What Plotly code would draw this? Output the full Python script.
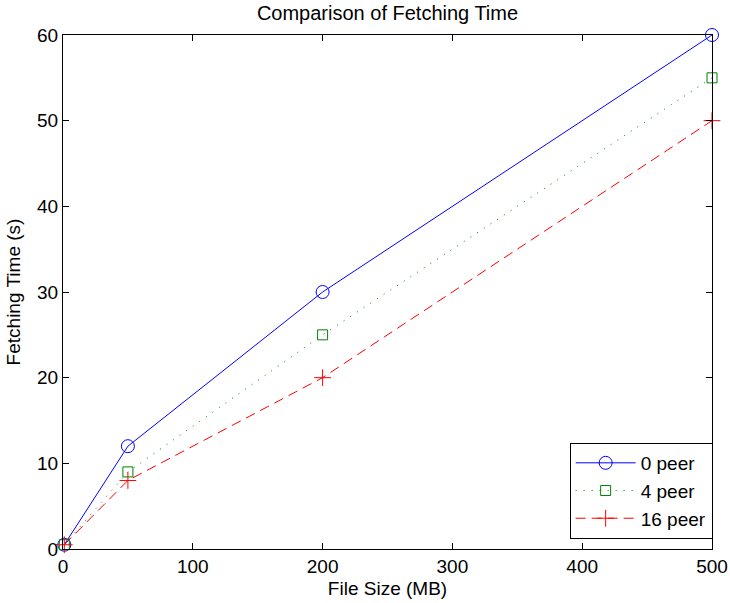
import plotly.graph_objects as go

file_size = [1, 50, 200, 500]
peer0 = [0.5, 12, 30, 60]
peer4 = [0.5, 9, 25, 55]
peer16 = [0.5, 8, 20, 50]
x_ticks = [0, 100, 200, 300, 400, 500]
y_ticks = [0, 10, 20, 30, 40, 50, 60]

fig = go.Figure()
fig.add_trace(go.Scatter(x=file_size, y=peer0, name="0 peer", mode="lines+markers", cliponaxis=False,
                         line=dict(color="rgb(0,0,255)", width=1, dash="solid"),
                         marker=dict(symbol="circle-open", size=13, color="rgb(0,0,255)", line=dict(width=1))))
fig.add_trace(go.Scatter(x=file_size, y=peer4, name="4 peer", mode="lines+markers", cliponaxis=False,
                         line=dict(color="rgb(0,128,0)", width=1, dash="1px,7px"),
                         marker=dict(symbol="square-open", size=10, color="rgb(0,128,0)", line=dict(width=1))))
fig.add_trace(go.Scatter(x=file_size, y=peer16, name="16 peer", mode="lines+markers", cliponaxis=False,
                         line=dict(color="rgb(255,0,0)", width=1, dash="10px,6px"),
                         marker=dict(symbol="cross-thin-open", size=12, color="rgb(255,0,0)", line=dict(width=1, color="rgb(255,0,0)"))))

font = "Liberation Sans, Arial, sans-serif"
fs = 19
fig.update_layout(
    width=730, height=603,
    margin=dict(l=63, r=18, t=35, b=54, autoexpand=False),
    paper_bgcolor="white", plot_bgcolor="white",
    title=dict(text="Comparison of Fetching Time", x=0.5, xref="paper", xanchor="center",
               y=1 - 13/603, yanchor="middle",
               font=dict(family=font, size=20, color="black")),
    font=dict(family=font, size=fs, color="black"),
    xaxis=dict(range=[0, 500], tickvals=x_ticks, ticks="inside", ticklen=6, tickcolor="black",
               showline=True, linecolor="black", linewidth=1, mirror="ticks", showgrid=False, zeroline=False,
               title=dict(text="File Size (MB)", font=dict(size=fs), standoff=5),
               tickfont=dict(size=fs), automargin=False),
    yaxis=dict(range=[0, 60], tickvals=y_ticks, ticks="inside", ticklen=6, tickcolor="black",
               showline=True, linecolor="black", linewidth=1, mirror="ticks", showgrid=False, zeroline=False,
               title=dict(text="Fetching Time (s)", font=dict(size=fs), standoff=11),
               tickfont=dict(size=fs), automargin=False),
    legend=dict(x=1.001, y=0.0195, xanchor="right", yanchor="bottom", bordercolor="black", borderwidth=1,
                bgcolor="white", font=dict(size=fs), tracegroupgap=0, itemwidth=60),
    showlegend=True,
)
fig.write_html("out.html", config={"displayModeBar": False},
               post_script="document.body.style.margin='0';document.body.style.overflow='hidden';")
